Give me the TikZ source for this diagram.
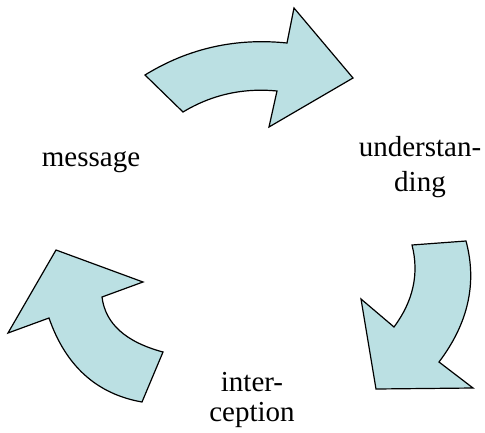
\documentclass[tikz,border=0pt]{standalone}
\usepackage{fontspec}
\setmainfont{Liberation Serif}
\definecolor{arrowfill}{RGB}{187,224,227}
\begin{document}
\begin{tikzpicture}[x=1pt,y=-1pt,
  blockarrow/.style={draw=black,fill=arrowfill,line width=1.2pt,line join=miter},
  label/.style={font=\fontsize{29}{35}\selectfont,align=center,inner sep=0pt}]
\useasboundingbox (0,0) rectangle (485,432);
% top arrow
\draw[blockarrow] (145,75) .. controls (188.3,48.3) and (235.7,37.7) .. (287,43)
  -- (294,8) -- (353,78) -- (269,127) -- (277,91)
  .. controls (243,87.7) and (211.7,94.7) .. (183,112) -- cycle;
% right arrow
\draw[blockarrow] (412,245) -- (466,241)
  .. controls (477.3,283) and (468.3,323.3) .. (439,362)
  -- (473,388) -- (376,389) -- (361,299) -- (394,327)
  .. controls (413.3,301) and (419.3,273.7) .. (412,245) -- cycle;
% left arrow
\draw[blockarrow] (163,352) -- (142,402)
  .. controls (96.7,394) and (65.7,366) .. (49,318)
  -- (8,333) -- (56,250) -- (143,282) -- (102,297)
  .. controls (105.3,323.7) and (125.7,342) .. (163,352) -- cycle;
\node[label,anchor=base] (msg) at (91,166) {message};
\node[label] (und) at (420,167) {understan-\\ding};
\node[label,font=\fontsize{29}{30}\selectfont] (int) at (252,400) {inter-\\ception};
\end{tikzpicture}
\end{document}
